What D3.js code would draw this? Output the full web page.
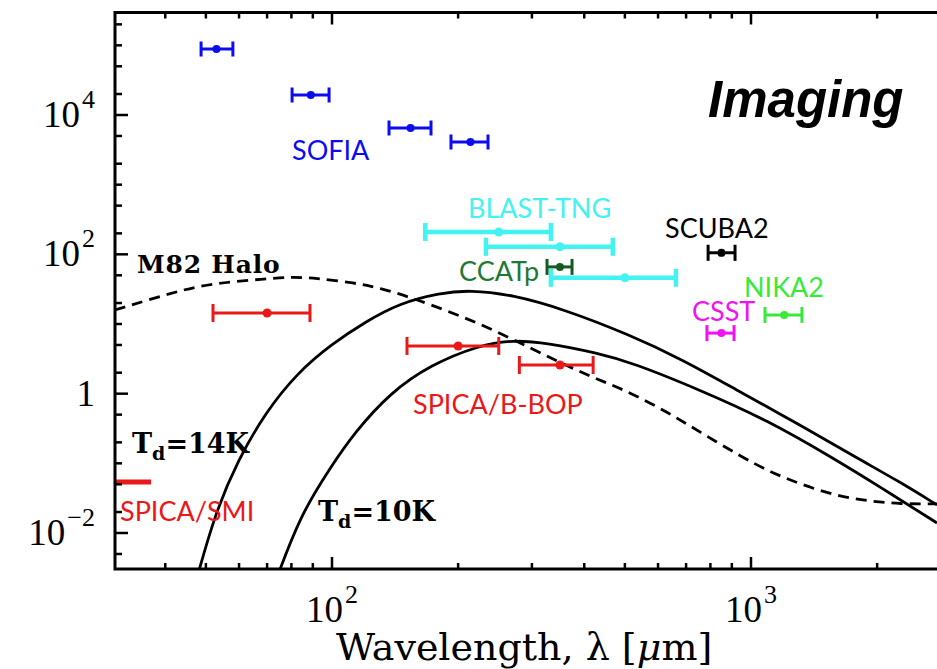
<!DOCTYPE html>
<html>
<head>
<meta charset="utf-8">
<script src="https://cdn.jsdelivr.net/npm/d3@7"></script>
<style>
  body { margin: 0; background: #fff; }
  svg { display: block; }
</style>
</head>
<body>
<svg id="plot"></svg>
<script>
// ---- data (wavelength in micron) ----
// instrument bands: centre, band edges, flux level
const sofiaWave = [53, 89, 154, 214];
const sofiaLo = [48.7, 80.3, 136.8, 192.3];
const sofiaHi = [58.0, 98.4, 172.3, 235.7];
const sofiaFlux = [88600, 19400, 6500, 4100];

const blastWave = [250, 350, 500];
const blastLo = [167, 233, 333];
const blastHi = [333, 468, 662];
const blastFlux = [209, 128, 46];

const ccatWave = [350];
const ccatLo = [326];
const ccatHi = [374];
const ccatFlux = [66];

const bbopWave = [70, 200, 350];
const bbopLo = [52, 151, 280];
const bbopHi = [88.6, 250, 420];
const bbopFlux = [14.4, 4.84, 2.58];

const scubaWave = [850];
const scubaLo = [790];
const scubaHi = [916];
const scubaFlux = [105];

const nikaWave = [1200];
const nikaLo = [1080];
const nikaHi = [1323];
const nikaFlux = [13.5];

const csstWave = [850];
const csstLo = [785];
const csstHi = [911];
const csstFlux = [7.4];

// SPICA/SMI band, drawn as a bar without a centre point
const smiLo = [17];
const smiHi = [37];
const smiFlux = [0.054];

// model curves
const m82Wave = [30.3, 36.4, 43.9, 52.6, 69.2, 79.4, 91.1, 113.5, 130.2, 156.1, 225.5, 296.9, 390.8, 453.3, 523, 630.4, 755.2, 941.3, 1110, 1309, 1570, 1892, 2268, 2780];
const m82Flux = [15.9, 22.1, 30.8, 38.8, 44.3, 47.3, 45.8, 38.8, 32.9, 23.6, 10.3, 4.53, 2.05, 1.42, 0.99, 0.546, 0.282, 0.128, 0.0752, 0.0506, 0.0352, 0.0288, 0.0261, 0.0261];

const td14Wave = [47.1, 52.6, 59.7, 69.2, 83.0, 100, 119.9, 145.3, 181.1, 213.5, 270.4, 355.9, 514.4, 688.2, 906, 1309, 1791, 2268, 2780];
const td14Flux = [0.0018, 0.0194, 0.112, 0.528, 2.05, 5.17, 10.7, 20.0, 27.9, 30.8, 26.1, 16.4, 6.96, 3.05, 1.21, 0.355, 0.119, 0.054, 0.0253];

const td10Wave = [73.5, 83.9, 98.9, 113.5, 137.5, 171.4, 225.5, 270.4, 326, 429.1, 523, 755.2, 1092, 1570, 2032, 2780];
const td10Flux = [0.0021, 0.0176, 0.0858, 0.282, 1.02, 2.58, 5.0, 5.9, 5.34, 3.84, 2.76, 1.13, 0.419, 0.119, 0.0458, 0.0139];

// axis ticks
const xMajorTicks = [100, 1000];
const xMajorExp = ["2", "3"];
const xMinorTicks = [40, 50, 60, 70, 80, 90, 200, 300, 400, 500, 600, 700, 800, 900, 2000, 3000];
const yMajorTicks = [1e-2, 1, 1e2, 1e4];
const yMajorExp = ["\u22122", "0", "2", "4"];
const yMinorTicks = [0.005, 0.02, 0.05, 0.1, 0.2, 0.5, 2, 5, 10, 20, 50, 200, 500, 1000, 2000, 5000, 2e4, 5e4, 1e5, 2e5];

// ---- setup ----
const W = 937, H = 669;
const svg = d3.select("#plot").attr("width", W).attr("height", H);
const box = { left: 115, top: 12.5, right: 1011, bottom: 569 };

const x = d3.scaleLog().domain([100, 1000]).range([332, 751]);
const y = d3.scaleLog().domain([1e-2, 1e4]).range([533, 115]);

const serif = "'Liberation Serif', 'Times New Roman', serif";
const heavySerif = "'DejaVu Serif', serif";
const sans = "Lato, 'Open Sans', sans-serif";

svg.append("defs").append("clipPath").attr("id", "clip")
    .append("rect")
    .attr("x", box.left).attr("y", box.top)
    .attr("width", box.right - box.left).attr("height", box.bottom - box.top);

const plot = svg.append("g").attr("clip-path", "url(#clip)");

// ---- curves ----
const line = d3.line()
    .x(d => x(d[0]))
    .y(d => y(d[1]))
    .curve(d3.curveBasis);

function drawCurve(waves, fluxes, dashed) {
    plot.append("path")
        .datum(waves.map((w, i) => [w, fluxes[i]]))
        .attr("d", line)
        .attr("fill", "none")
        .attr("stroke", "#000")
        .attr("stroke-width", 2.8)
        .attr("stroke-dasharray", dashed ? "11,7" : null);
}
drawCurve(m82Wave, m82Flux, true);
drawCurve(td14Wave, td14Flux, false);
drawCurve(td10Wave, td10Flux, false);

// ---- band markers ----
function drawBands(waves, lo, hi, flux, color, opts) {
    const o = Object.assign({ width: 3, cap: 15, r: 4 }, opts);
    const g = plot.append("g").attr("stroke", color).attr("fill", color);
    lo.forEach((l, i) => {
        const yy = y(flux[i]);
        g.append("line")
            .attr("x1", x(l)).attr("x2", x(hi[i]))
            .attr("y1", yy).attr("y2", yy)
            .attr("stroke-width", o.width);
        if (o.cap > 0) {
            [l, hi[i]].forEach(v => {
                g.append("line")
                    .attr("x1", x(v)).attr("x2", x(v))
                    .attr("y1", yy - o.cap / 2).attr("y2", yy + o.cap / 2)
                    .attr("stroke-width", o.width);
            });
        }
        if (waves) {
            g.append("circle")
                .attr("cx", x(waves[i])).attr("cy", yy)
                .attr("r", o.r).attr("stroke", "none");
        }
    });
}

const blue = "#0c0cee", cyan = "#44f2f2", dkgreen = "#1d7a34", ltgreen = "#38ea38",
      magenta = "#f012f0", red = "#ea1818";

drawBands(sofiaWave, sofiaLo, sofiaHi, sofiaFlux, blue, { width: 3, cap: 15, r: 4 });
drawBands(blastWave, blastLo, blastHi, blastFlux, cyan, { width: 4.5, cap: 18, r: 4.5 });
drawBands(ccatWave, ccatLo, ccatHi, ccatFlux, "#145a22", { width: 3, cap: 16, r: 4 });
drawBands(bbopWave, bbopLo, bbopHi, bbopFlux, red, { width: 3, cap: 18, r: 4.5 });
drawBands(scubaWave, scubaLo, scubaHi, scubaFlux, "#000", { width: 3, cap: 16, r: 4 });
drawBands(nikaWave, nikaLo, nikaHi, nikaFlux, ltgreen, { width: 3, cap: 16, r: 4 });
drawBands(csstWave, csstLo, csstHi, csstFlux, magenta, { width: 3, cap: 16, r: 4 });
drawBands(null, smiLo, smiHi, smiFlux, red, { width: 5, cap: 0 });

// ---- frame and ticks ----
svg.append("rect")
    .attr("x", box.left).attr("y", box.top)
    .attr("width", box.right - box.left).attr("height", box.bottom - box.top)
    .attr("fill", "none").attr("stroke", "#000").attr("stroke-width", 3);

const ticks = svg.append("g").attr("stroke", "#000").attr("stroke-width", 2.5);
function xTick(v, len) {
    ticks.append("line").attr("x1", x(v)).attr("x2", x(v))
        .attr("y1", box.bottom).attr("y2", box.bottom - len);
    ticks.append("line").attr("x1", x(v)).attr("x2", x(v))
        .attr("y1", box.top).attr("y2", box.top + len);
}
function yTick(v, len) {
    ticks.append("line").attr("x1", box.left).attr("x2", box.left + len)
        .attr("y1", y(v)).attr("y2", y(v));
}
xMajorTicks.forEach(v => xTick(v, 12));
xMinorTicks.forEach(v => xTick(v, 6));
yMajorTicks.forEach(v => yTick(v, 13));
yMinorTicks.forEach(v => yTick(v, 7));

// tick labels: 10^n with a raised exponent
function powerLabel(xPos, yPos, exp, anchor) {
    const t = svg.append("text")
        .attr("x", xPos).attr("y", yPos)
        .attr("text-anchor", anchor)
        .attr("font-family", serif)
        .attr("font-size", 37)
        .attr("fill", "#000");
    if (exp === "0") {
        t.text("1");
        return;
    }
    t.append("tspan").text("10");
    t.append("tspan").attr("dy", -19).attr("font-size", 26).attr("dx", 2).text(exp);
}
yMajorTicks.forEach((v, i) => powerLabel(95, y(v) + 12, yMajorExp[i], "end"));
xMajorTicks.forEach((v, i) => powerLabel(x(v), 622, xMajorExp[i], "middle"));

svg.append("text")
    .attr("x", 336).attr("y", 660)
    .attr("font-family", heavySerif)
    .attr("font-size", 38)
    .attr("fill", "#000")
    .html("Wavelength, \u03bb [<tspan font-style='italic'>\u03bc</tspan>m]");

// ---- annotations ----
function label(txt, xPos, yPos, color) {
    svg.append("text")
        .attr("x", xPos).attr("y", yPos)
        .attr("font-family", sans)
        .attr("font-size", 27)
        .attr("fill", color)
        .text(txt);
}
label("SOFIA", 292, 160, blue);
label("BLAST-TNG", 468, 218, cyan);
label("CCATp", 459, 281, dkgreen);
label("SCUBA2", 665, 238, "#000");
label("NIKA2", 744, 297, ltgreen);
label("CSST", 692, 321, magenta);
label("SPICA/B-BOP", 413, 414, red);
label("SPICA/SMI", 120, 521, red);

svg.append("text")
    .attr("x", 708).attr("y", 117)
    .attr("font-family", "'Liberation Sans', Arial, sans-serif")
    .attr("font-weight", "bold")
    .attr("font-style", "italic")
    .attr("font-size", 51)
    .attr("fill", "#000")
    .text("Imaging");

svg.append("text")
    .attr("x", 137).attr("y", 273)
    .attr("font-family", heavySerif)
    .attr("font-weight", "bold")
    .attr("font-size", 25)
    .attr("letter-spacing", 0.8)
    .attr("fill", "#000")
    .text("M82 Halo");

function tempLabel(temp, xPos, yPos) {
    const t = svg.append("text")
        .attr("x", xPos).attr("y", yPos)
        .attr("font-family", heavySerif)
        .attr("font-weight", "bold")
        .attr("font-size", 27)
        .attr("fill", "#000");
    t.append("tspan").text("T");
    t.append("tspan").attr("font-size", 19).attr("dy", 7).text("d");
    t.append("tspan").attr("dy", -7).text("=" + temp + "K");
}
tempLabel(14, 132, 453);
tempLabel(10, 318, 521);
</script>
</body>
</html>
